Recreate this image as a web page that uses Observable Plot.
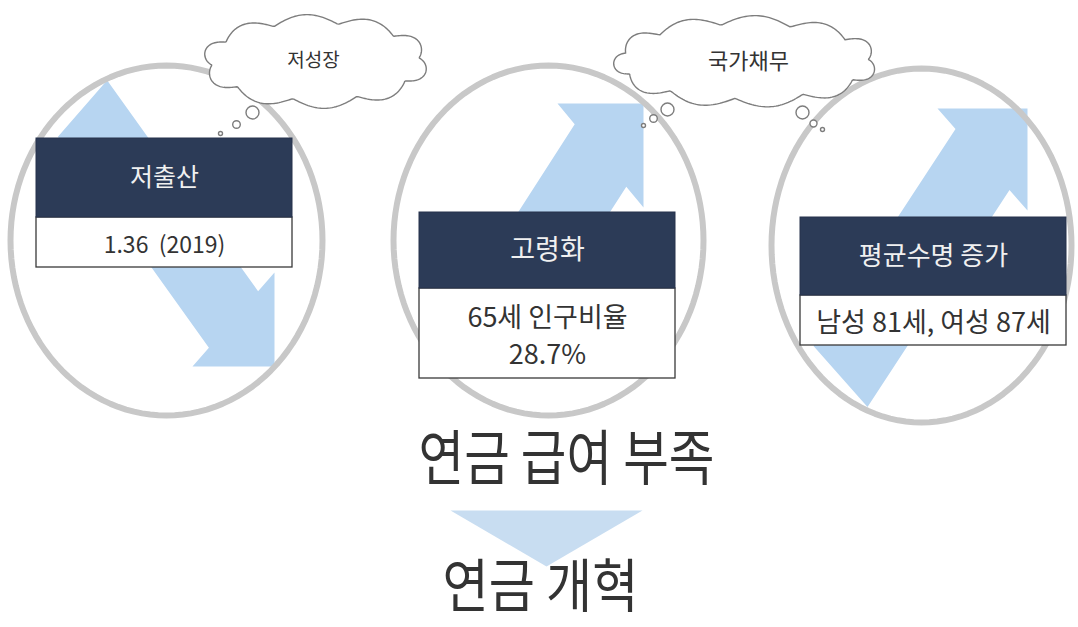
<!DOCTYPE html>
<html><head><meta charset="utf-8">
<script src="https://cdn.jsdelivr.net/npm/d3@7"></script>
<script src="https://cdn.jsdelivr.net/npm/@observablehq/plot@0.6"></script>
<style>body{margin:0;background:#fff;} #chart svg{display:block;}</style>
</head><body><div id="chart"></div>
<script>
// ---- content ----
const headers = ["저출산", "고령화", "평균수명 증가"];
const details = ["1.36  (2019)", "65세 인구비율\n28.7%", "남성 81세, 여성 87세"];
const trends = ["down", "up", "up"];
const thoughts = ["저성장", "국가채무"];
const outcomes = ["연금 급여 부족", "연금 개혁"];

// ---- layout (positions / sizes) ----
const W = 1078, H = 627;
const FONT = "'Noto Sans CJK KR', 'Noto Sans', sans-serif";
const rings = [
  {cx: 166, cy: 240, rx: 156, ry: 175},
  {cx: 548, cy: 240, rx: 155, ry: 175},
  {cx: 921, cy: 245, rx: 150, ry: 177}
];
// tip corner, horizontal wing end x, vertical wing end y, shaft start (centre)
const arrowGeom = [
  {tip: [274, 366], wingX: 192, wingY: 272, start: [82, 108]},
  {tip: [643, 103], wingX: 557, wingY: 207, start: [492, 323]},
  {tip: [1027, 108], wingX: 937, wingY: 210, start: [840, 376]}
];
const notch = 0.2;
const boxes = [
  {x1: 36, x2: 292, hy1: 138, hy2: 217, dy2: 267, hs: 25, ds: 23},
  {x1: 419, x2: 675, hy1: 212, hy2: 288, dy2: 378, hs: 27, ds: 27},
  {x1: 800, x2: 1066, hy1: 217, hy2: 295, dy2: 345, hs: 26, ds: 27}
];
const clouds = [
  {cx: 315, cy: 61, rx: 104, ry: 38, lobes: 10, b: 9, phase: 0.15},
  {cx: 745, cy: 61, rx: 123, ry: 37, lobes: 11, b: 9, phase: 0.1}
];
const cloudText = [{x: 313, y: 60, s: 19}, {x: 748, y: 61, s: 22}];
const bubbles = [
  [220,133,2],[236,124,3.8],[252,112,6.5],
  [643,125,2],[653,118,3.8],[667,109,6.5],
  [802,112,6.5],[813,123,3.5],[822,129,2]
];
const outcomeLayout = [{x: 566, y: 460, len: 296, s: 60}, {x: 540, y: 588, len: 196, s: 58}];
const downChevron = [[450,510],[642,510],[546,566]];

// ---- geometry built from the layout ----
const ringPts = rings.flatMap((r, k) => d3.range(0, 120).map(i => {
  const t = i / 120 * 2 * Math.PI;
  return {id: k, x: r.cx + r.rx * Math.cos(t), y: r.cy + r.ry * Math.sin(t)};
}));

function arrowPoly(a, id) {
  const [tx, ty] = a.tip;
  const hw = [a.wingX, ty], vw = [tx, a.wingY];
  const lerp = f => [hw[0] + f * (vw[0] - hw[0]), hw[1] + f * (vw[1] - hw[1])];
  const n1 = lerp(notch), n2 = lerp(1 - notch), mid = lerp(0.5);
  const ox = a.start[0] - mid[0], oy = a.start[1] - mid[1];
  return [
    [n1[0] + ox, n1[1] + oy], n1, hw, a.tip, vw, n2, [n2[0] + ox, n2[1] + oy]
  ].map(([x, y]) => ({id, trend: trends[id], x, y}));
}
const arrowPts = arrowGeom.flatMap((a, i) => arrowPoly(a, i));
const chevronPts = downChevron.map(([x, y]) => ({x, y}));

function cloudPts(c, k) {
  const n = 360;
  return d3.range(n).map(i => {
    const t = i / n * 2 * Math.PI;
    const f = ((i / n) * c.lobes + c.phase) % 1;
    const bump = c.b * Math.sin(Math.PI * f);
    let nx = Math.cos(t) / c.rx, ny = Math.sin(t) / c.ry;
    const nl = Math.hypot(nx, ny); nx /= nl; ny /= nl;
    return {k, x: c.cx + c.rx * Math.cos(t) + bump * nx, y: c.cy + c.ry * Math.sin(t) + bump * ny};
  });
}
const cloudOutline = clouds.flatMap((c, k) => cloudPts(c, k));
const bubbleData = bubbles.map(([x, y, r]) => ({x, y, r}));

const headerRects = boxes.map((b, i) => ({...b, label: headers[i]}));
const detailRects = boxes.map((b, i) => ({...b, label: details[i]}));

const chart = Plot.plot({
  width: W, height: H, margin: 0,
  style: {background: "#ffffff", fontFamily: FONT},
  x: {domain: [0, W], range: [0, W], axis: null},
  y: {domain: [0, H], range: [0, H], axis: null},
  r: {type: "identity"},
  marks: [
    Plot.line(arrowPts, {x: "x", y: "y", z: "id", curve: "linear-closed", fill: "#b7d5f1", stroke: "none"}),
    Plot.line(chevronPts, {x: "x", y: "y", curve: "linear-closed", fill: "#c8ddf1", stroke: "none"}),
    Plot.line(ringPts, {x: "x", y: "y", z: "id", curve: "linear-closed", stroke: "#c8c8c8", strokeWidth: 6, fill: "none"}),
    Plot.line(cloudOutline, {x: "x", y: "y", z: "k", curve: "linear-closed", fill: "#ffffff", stroke: "#7d7d7d", strokeWidth: 1.4}),
    Plot.dot(bubbleData, {x: "x", y: "y", r: "r", fill: "#ffffff", stroke: "#7d7d7d", strokeWidth: 1.4}),
    Plot.text(thoughts, {x: (d, i) => cloudText[i].x, y: (d, i) => cloudText[i].y, text: d => d,
      fontSize: 19, fill: "#333333"}),
    // boxes
    Plot.rect(detailRects, {x1: "x1", x2: "x2", y1: "hy2", y2: "dy2", fill: "#ffffff", stroke: "#3a3a3a", strokeWidth: 1.3}),
    Plot.rect(headerRects, {x1: "x1", x2: "x2", y1: "hy1", y2: "hy2", fill: "#2c3b57", stroke: "#26334c", strokeWidth: 1}),
    Plot.text(headerRects, {x: d => (d.x1 + d.x2) / 2, y: d => (d.hy1 + d.hy2) / 2, text: "label",
      fill: "#f0f0f0", fontSize: 25}),
    Plot.text(detailRects, {x: d => (d.x1 + d.x2) / 2, y: d => (d.hy2 + d.dy2) / 2, text: "label",
      fill: "#333333", fontSize: 25, lineHeight: 1.38}),
    Plot.text(outcomes, {x: (d, i) => outcomeLayout[i].x, y: (d, i) => outcomeLayout[i].y, text: d => d,
      fill: "#333333", fontSize: 60})
  ]
});

// per-label font sizes and fitted widths
const svg = d3.select(chart);
svg.selectAll("text").each(function() {
  const el = d3.select(this);
  const t = el.text();
  const bi = headers.indexOf(t);
  if (bi >= 0) el.attr("font-size", boxes[bi].hs);
  const di = details.findIndex(s => s.replace("\n", "") === t);
  if (di >= 0) el.attr("font-size", boxes[di].ds);
  const ti = thoughts.indexOf(t);
  if (ti >= 0) el.attr("font-size", cloudText[ti].s);
  const oi = outcomes.indexOf(t);
  if (oi >= 0) el.attr("font-size", outcomeLayout[oi].s).attr("textLength", outcomeLayout[oi].len).attr("lengthAdjust", "spacingAndGlyphs");
});
document.getElementById("chart").appendChild(chart);
</script></body></html>
